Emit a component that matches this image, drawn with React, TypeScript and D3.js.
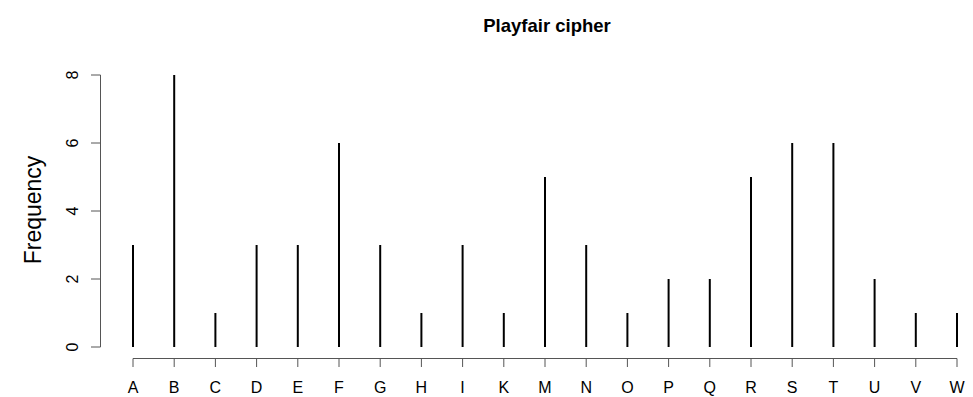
import { useEffect, useRef } from 'react';
import * as d3 from 'd3';

const letters = ['A', 'B', 'C', 'D', 'E', 'F', 'G', 'H', 'I', 'K', 'M', 'N', 'O', 'P', 'Q', 'R', 'S', 'T', 'U', 'V', 'W'];
const counts = [3, 8, 1, 3, 3, 6, 3, 1, 3, 1, 5, 3, 1, 2, 2, 5, 6, 6, 2, 1, 1];
const yTicks = [0, 2, 4, 6, 8];

export default function App() {
  const svgRef = useRef<SVGSVGElement | null>(null);

  useEffect(() => {
    if (!svgRef.current) return;
    const width = 973;
    const height = 397;
    const svg = d3.select(svgRef.current);
    svg.selectAll('*').remove();

    const font = 'Liberation Sans, Arial, sans-serif';

    const x = d3.scalePoint<string>().domain(letters).range([133, 957]);
    const y = d3.scaleLinear().domain([0, 8]).range([347, 75]);

    // Bars (type = "h")
    svg.append('g')
      .selectAll('line')
      .data(letters)
      .enter()
      .append('line')
      .attr('x1', d => x(d)!)
      .attr('x2', d => x(d)!)
      .attr('y1', y(0))
      .attr('y2', (d, i) => y(counts[i]))
      .attr('stroke', '#000')
      .attr('stroke-width', 2);

    // X axis
    const xAxis = svg.append('g');
    xAxis.append('line')
      .attr('x1', x(letters[0])!)
      .attr('x2', x(letters[letters.length - 1])!)
      .attr('y1', 358.5).attr('y2', 358.5)
      .attr('stroke', '#555').attr('stroke-width', 1);
    xAxis.selectAll('.xt')
      .data(letters)
      .enter()
      .append('line')
      .attr('x1', d => x(d)!).attr('x2', d => x(d)!)
      .attr('y1', 358.5).attr('y2', 367)
      .attr('stroke', '#555');
    xAxis.selectAll('.xl')
      .data(letters)
      .enter()
      .append('text')
      .attr('x', d => x(d)!)
      .attr('y', 393)
      .attr('text-anchor', 'middle')
      .attr('font-family', font)
      .attr('font-size', 16)
      .attr('fill', '#000')
      .text(d => d);

    // Y axis
    const yAxis = svg.append('g');
    yAxis.append('line')
      .attr('x1', 100.5).attr('x2', 100.5)
      .attr('y1', y(0)).attr('y2', y(8))
      .attr('stroke', '#555');
    yAxis.selectAll('.yt')
      .data(yTicks)
      .enter()
      .append('line')
      .attr('x1', 91).attr('x2', 100.5)
      .attr('y1', d => y(d)).attr('y2', d => y(d))
      .attr('stroke', '#555');
    yAxis.selectAll('.yl')
      .data(yTicks)
      .enter()
      .append('text')
      .attr('transform', d => `translate(78,${y(d)}) rotate(-90)`)
      .attr('text-anchor', 'middle')
      .attr('font-family', font)
      .attr('font-size', 16)
      .attr('fill', '#000')
      .text(d => String(d));

    svg.append('text')
      .attr('transform', `translate(41,210) rotate(-90)`)
      .attr('text-anchor', 'middle')
      .attr('font-family', font)
      .attr('font-size', 23)
      .attr('fill', '#000')
      .text('Frequency');

    svg.append('text')
      .attr('x', 547)
      .attr('y', 32)
      .attr('text-anchor', 'middle')
      .attr('font-family', font)
      .attr('font-size', 18.5)
      .attr('font-weight', 'bold')
      .attr('fill', '#000')
      .text('Playfair cipher');

    svg.attr('width', width).attr('height', height);
  }, []);

  return (
    <div style={{ position: 'absolute', left: 0, top: 0 }}>
      <svg ref={svgRef} width={973} height={397} style={{ display: 'block', background: '#fff' }} />
    </div>
  );
}
